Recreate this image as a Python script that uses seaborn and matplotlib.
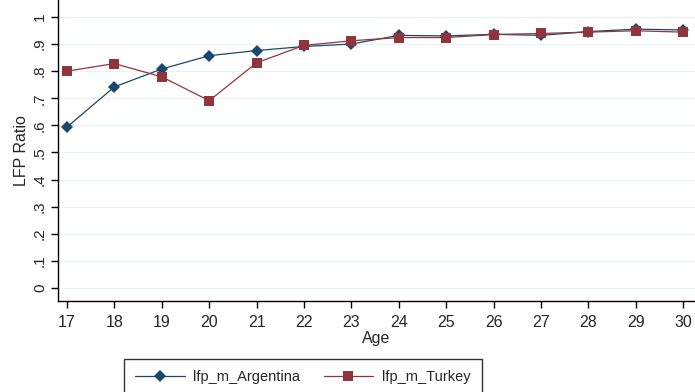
import matplotlib
matplotlib.use("Agg")
import matplotlib.pyplot as plt
import seaborn as sns
import pandas as pd

ages = [17, 18, 19, 20, 21, 22, 23, 24, 25, 26, 27, 28, 29, 30]
lfp_m_Argentina = [0.594, 0.742, 0.808, 0.857, 0.876, 0.891, 0.900, 0.932, 0.930, 0.936, 0.932, 0.946, 0.955, 0.952]
lfp_m_Turkey = [0.800, 0.828, 0.779, 0.691, 0.831, 0.895, 0.912, 0.924, 0.924, 0.935, 0.939, 0.944, 0.949, 0.944]
y_ticks = [0, 0.1, 0.2, 0.3, 0.4, 0.5, 0.6, 0.7, 0.8, 0.9, 1.0]
y_ticklabels = ["0", ".1", ".2", ".3", ".4", ".5", ".6", ".7", ".8", ".9", "1"]

df = pd.DataFrame({
    "Age": ages * 2,
    "LFP": lfp_m_Argentina + lfp_m_Turkey,
    "series": ["lfp_m_Argentina"] * len(ages) + ["lfp_m_Turkey"] * len(ages),
})

sns.set_style("white")
plt.rcParams["font.family"] = ["Liberation Sans", "DejaVu Sans"]

fig = plt.figure(figsize=(6.95, 3.92), dpi=100)
ax = fig.add_axes([58 / 695, 1 - 301 / 392, 1 - 58 / 695, 301 / 392])

palette = {"lfp_m_Argentina": "#1a476f", "lfp_m_Turkey": "#90353b"}
markers = {"lfp_m_Argentina": "D", "lfp_m_Turkey": "s"}
sns.lineplot(data=df, x="Age", y="LFP", hue="series", style="series",
             palette=palette, markers=markers, dashes=False, ax=ax,
             linewidth=0.9, markersize=7, markeredgewidth=0, legend=True)
for line in ax.lines:
    if line.get_marker() == "D":
        line.set_markersize(6.3)

ax.set_xlim(16.81, 30.25)
ax.set_ylim(-0.048, 1.0625)
ax.set_yticks(y_ticks)
ax.set_yticklabels(y_ticklabels, rotation=90, va="center", fontsize=11)
ax.set_xticks(ages)
ax.set_xticklabels([str(a) for a in ages], fontsize=11.5)
ax.yaxis.grid(True, color="#eaf2f3", linewidth=1.0)
ax.xaxis.grid(False)
ax.set_axisbelow(True)
for s in ["top", "right"]:
    ax.spines[s].set_visible(False)
for s in ["left", "bottom"]:
    ax.spines[s].set_color("black")
    ax.spines[s].set_linewidth(1.0)
ax.tick_params(axis="both", which="major", direction="out", length=5, width=1,
               color="black", left=True, bottom=True, pad=3)
ax.tick_params(axis="x", pad=5)
ax.set_xlabel("Age", fontsize=11.5, labelpad=1)
ax.set_ylabel("LFP Ratio", fontsize=11.5)
ax.yaxis.set_label_coords(-0.046, 0.5)

handles, labels = ax.get_legend_handles_labels()
ax.get_legend().remove()
leg = fig.legend(handles, labels, loc="upper left",
                 bbox_to_anchor=(124 / 695, 1 - 359 / 392), ncol=2,
                 frameon=True, fancybox=False, fontsize=10.5,
                 handlelength=3.4, handletextpad=0.6, columnspacing=1.6,
                 borderpad=0.75, borderaxespad=0, edgecolor="black")
leg.get_frame().set_linewidth(1.0)

fig.savefig("out.png", dpi=100)
